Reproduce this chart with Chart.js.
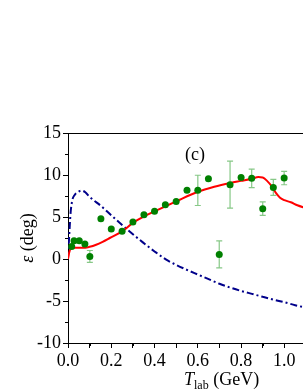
<!DOCTYPE html>
<html>
<head>
<meta charset="utf-8">
<script src="https://cdn.jsdelivr.net/npm/chart.js@4"></script>
<style>
html,body{margin:0;padding:0;background:#fff;overflow:hidden;}
#wrap{position:relative;width:310px;height:392px;}
</style>
</head>
<body>
<div id="wrap"><canvas id="c"></canvas></div>
<script>
// Experimental points
const expX   = [0.017,0.028,0.052,0.078,0.101,0.152,0.20,0.25,0.30,0.351,0.40,0.45,0.50,0.55,0.60,0.649,0.699,0.749,0.80,0.849,0.90,0.949,0.999];
const expY   = [1.5,2.18,2.18,1.78,0.31,4.8,3.57,3.3,4.4,5.27,5.67,6.46,6.86,8.17,8.17,9.56,0.55,8.85,9.7,9.6,5.99,8.52,9.64];
const expErr = [0,0,0,0,0.7,0,0,0,0,0,0,0,0,0,1.8,0,1.6,2.8,0,1.1,0.8,0.95,0.8];

// Red solid curve
const redX = [0,0.005,0.012,0.02,0.05,0.08,0.1,0.13,0.16,0.193,0.254,0.3,0.35,0.4,0.5,0.6,0.676,0.75,0.8,0.85,0.88,0.9,0.92,0.94,0.96,0.98,1.0,1.03,1.06,1.1];
const redY = [0,0.7,1.25,1.35,1.35,1.35,1.45,1.7,2.05,2.5,3.35,4.3,5.05,5.67,6.86,8.0,8.6,9.05,9.3,9.55,9.75,9.7,9.3,8.7,7.9,7.3,7.0,6.75,6.4,6.05];

// Blue dash-dot curve
const blueX = [0,0.005,0.012,0.02,0.03,0.045,0.062,0.08,0.1,0.155,0.2,0.254,0.3,0.346,0.4,0.454,0.5,0.546,0.6,0.65,0.7,0.75,0.8,0.85,0.9,0.95,1.0,1.05,1.1];
const blueY = [0,2.5,5.5,7.0,7.6,7.95,8.15,7.95,7.4,6.26,5.2,3.96,2.95,1.98,0.9,-0.08,-0.7,-1.25,-1.85,-2.4,-2.95,-3.4,-3.8,-4.15,-4.5,-4.85,-5.15,-5.5,-5.8];

const xTickStep = 0.2, yTickStep = 5;
const SERIF = "'Liberation Serif','Times New Roman',serif";

const pts = (xs, ys) => xs.map((x,i)=>({x:x,y:ys[i]}));

const extras = {
  id:'extras',
  beforeDatasetsDraw(chart){
    const ctx = chart.ctx, xs = chart.scales.x, ys = chart.scales.y;
    ctx.save();
    ctx.strokeStyle = 'rgba(70,170,70,0.65)';
    ctx.lineWidth = 1.2;
    expX.forEach((x,i)=>{
      const e = expErr[i]; if(!e) return;
      const px = xs.getPixelForValue(x);
      const y1 = ys.getPixelForValue(expY[i]+e), y2 = ys.getPixelForValue(expY[i]-e);
      ctx.beginPath();
      ctx.moveTo(px,y1); ctx.lineTo(px,y2);
      ctx.moveTo(px-3,y1); ctx.lineTo(px+3,y1);
      ctx.moveTo(px-3,y2); ctx.lineTo(px+3,y2);
      ctx.stroke();
    });
    ctx.restore();
  },
  afterDraw(chart){
    const ctx = chart.ctx, a = chart.chartArea, xs = chart.scales.x, ys = chart.scales.y;
    ctx.save();
    ctx.strokeStyle = '#000'; ctx.lineWidth = 1;
    // frame top and right
    ctx.beginPath();
    ctx.moveTo(a.left, a.top+0.5); ctx.lineTo(a.right, a.top+0.5);
    ctx.lineTo(a.right, a.bottom);
    ctx.stroke();
    // minor ticks
    ctx.beginPath();
    for(let v=-7.5; v<15; v+=5){
      const py = Math.round(ys.getPixelForValue(v))+0.5;
      ctx.moveTo(a.left, py); ctx.lineTo(a.left-3, py);
    }
    for(let v=0.1; v<1.1; v+=0.2){
      const px = Math.round(xs.getPixelForValue(v))+0.5;
      ctx.moveTo(px, a.bottom); ctx.lineTo(px, a.bottom+3);
    }
    ctx.stroke();
    // texts
    ctx.fillStyle = '#000';
    ctx.textBaseline = 'alphabetic';
    ctx.textAlign = 'left';
    ctx.font = "18px " + SERIF;
    ctx.textAlign = 'center';
    ctx.fillText('(c)', 195, 160);
    // x title
    ctx.textAlign = 'left';
    let x0 = 184;
    ctx.font = "italic 18px " + SERIF;
    ctx.fillText('T', x0, 385); x0 += ctx.measureText('T').width;
    ctx.font = "12px " + SERIF;
    ctx.fillText('lab', x0, 389); x0 += ctx.measureText('lab').width;
    ctx.font = "18px " + SERIF;
    ctx.fillText(' (GeV)', x0, 385);
    // y title
    ctx.translate(33, 238);
    ctx.rotate(-Math.PI/2);
    ctx.font = "italic 18px " + SERIF;
    const w1 = ctx.measureText('ε').width;
    ctx.font = "18px " + SERIF;
    const w2 = ctx.measureText(' (deg)').width;
    let s = -(w1+w2)/2;
    ctx.font = "italic 18px " + SERIF;
    ctx.fillText('ε', s, 0);
    ctx.font = "18px " + SERIF;
    ctx.fillText(' (deg)', s+w1, 0);
    ctx.restore();
  }
};

new Chart(document.getElementById('c'), {
  type:'scatter',
  data:{
    datasets:[
      {label:'exp', data:pts(expX,expY), backgroundColor:'#008000', borderColor:'#008000', pointRadius:3.5, pointBorderWidth:0, showLine:false, order:0},
      {label:'red', data:pts(redX,redY), showLine:true, borderColor:'#ff0000', borderWidth:2, pointRadius:0, cubicInterpolationMode:'monotone', order:1},
      {label:'blue', data:pts(blueX,blueY), showLine:true, borderColor:'#00008b', borderWidth:2, borderDash:[7,3,2,3], pointRadius:0, cubicInterpolationMode:'monotone', order:2}
    ]
  },
  options:{
    responsive:true, maintainAspectRatio:false, animation:false,
    layout:{padding:{top:133, right:3, left:0, bottom:0}},
    plugins:{legend:{display:false}, tooltip:{enabled:false}},
    scales:{
      x:{
        type:'linear', min:0, max:1.1,
        afterFit(s){ s.height = 49; },
        grid:{drawOnChartArea:false, tickLength:5, color:'#000', tickColor:'#000'},
        border:{display:true, color:'#000', width:1},
        ticks:{stepSize:0.1, autoSkip:false, maxRotation:0, color:'#000', padding:2,
          font:{family:SERIF, size:18},
          callback:(v)=>{ const k=Math.round(v*10); return (k%2===0 && k<=10) ? (k/10).toFixed(1) : ''; }}
      },
      y:{
        type:'linear', min:-10, max:15,
        afterFit(s){ s.width = 68; },
        grid:{drawOnChartArea:false, tickLength:5, color:'#000', tickColor:'#000'},
        border:{display:true, color:'#000', width:1},
        ticks:{stepSize:yTickStep, autoSkip:false, color:'#000', padding:2,
          font:{family:SERIF, size:18}}
      }
    }
  },
  plugins:[extras]
});
</script>
</body>
</html>
